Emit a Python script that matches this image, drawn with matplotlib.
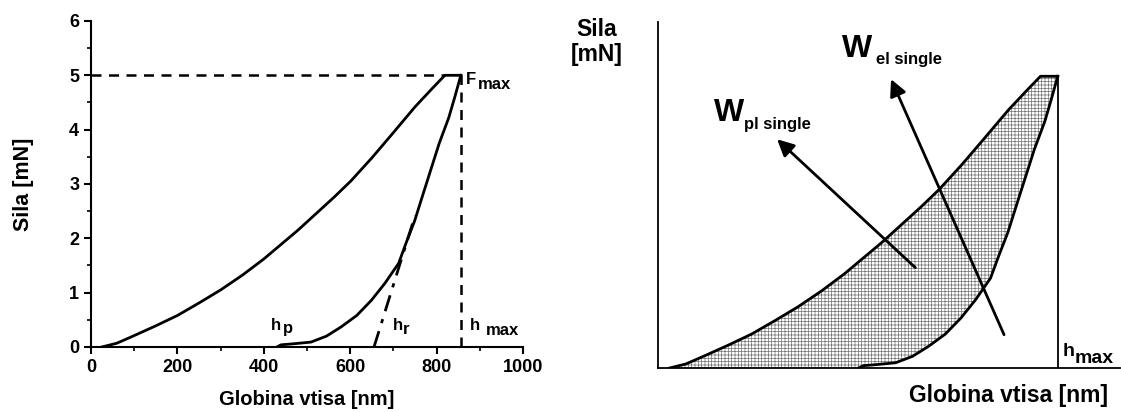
import matplotlib
matplotlib.use("Agg")
import matplotlib.pyplot as plt

plt.rcParams['font.family'] = ['Liberation Sans', 'DejaVu Sans']
plt.rcParams['font.weight'] = 'bold'
plt.rcParams['hatch.linewidth'] = 0.5

# loading curve (depth nm, force mN)
load_x = [25, 60, 100, 150, 200, 250, 300, 350, 400, 479, 563, 602, 650, 695, 750, 790, 819, 856]
load_y = [0, 0.07, 0.21, 0.39, 0.58, 0.81, 1.05, 1.32, 1.62, 2.15, 2.76, 3.06, 3.48, 3.9, 4.42, 4.76, 5.0, 5.0]

# unloading curve
unload_x = [856, 842, 828, 806, 786, 768, 749, 730, 712, 680, 649, 615, 579, 545, 509, 470, 440, 430]
unload_y = [5.0, 4.6, 4.22, 3.75, 3.25, 2.8, 2.32, 1.93, 1.54, 1.17, 0.86, 0.58, 0.37, 0.2, 0.09, 0.06, 0.04, 0]

# tangent at start of unloading
tan_x = [655, 750]
tan_y = [0, 2.42]

h_max = 856
f_max = 5.0

fig = plt.figure(figsize=(11.21, 4.12), dpi=100)

# ---- left chart ----
ax = fig.add_axes([0.0812, 0.1578, 0.3854, 0.7913])
ax.plot(load_x, load_y, color='black', lw=2, solid_joinstyle='round')
ax.plot(unload_x, unload_y, color='black', lw=2, solid_joinstyle='round')
ax.plot(tan_x, tan_y, color='black', lw=2, linestyle=(0, (6, 3, 1.5, 3)))
ax.plot([0, 819], [f_max, f_max], color='black', lw=1.8, linestyle=(0, (4, 3)))
ax.plot([h_max, h_max], [0, f_max], color='black', lw=1.8, linestyle=(0, (4, 3)))

ax.set_xlim(0, 1000)
ax.set_ylim(0, 6)
ax.set_xticks([0, 200, 400, 600, 800, 1000])
ax.set_xticks([100, 300, 500, 700, 900], minor=True)
ax.set_yticks([0, 1, 2, 3, 4, 5, 6])
ax.set_yticks([0.5, 1.5, 2.5, 3.5, 4.5, 5.5], minor=True)
ax.spines['top'].set_visible(False)
ax.spines['right'].set_visible(False)
ax.spines['left'].set_linewidth(1.5)
ax.spines['bottom'].set_linewidth(1.5)
ax.tick_params(which='major', length=5, width=1.5, labelsize=13)
ax.tick_params(which='minor', length=3, width=1.2)
ax.set_xlabel('Globina vtisa [nm]', fontsize=14.5, fontweight='bold', labelpad=10)
ax.set_ylabel('Sila [mN]', fontsize=15.5, fontweight='bold', labelpad=25)

ax.text(868, 4.84, 'F', fontsize=12, ha='left', va='baseline')
ax.text(896, 4.74, 'max', fontsize=12, ha='left', va='baseline')
ax.text(416, 0.31, 'h', fontsize=12, ha='left', va='baseline')
ax.text(444, 0.25, 'p', fontsize=12, ha='left', va='baseline')
ax.text(698, 0.31, 'h', fontsize=12, ha='left', va='baseline')
ax.text(722, 0.24, 'r', fontsize=12, ha='left', va='baseline')
ax.text(876, 0.31, 'h', fontsize=12, ha='left', va='baseline')
ax.text(914, 0.22, 'max', fontsize=12, ha='left', va='baseline')

# ---- right chart ----
ax2 = fig.add_axes([0.587, 0.1068, 0.412, 0.8398])
poly_x = load_x + unload_x
poly_y = load_y + unload_y
ax2.fill(poly_x, poly_y, facecolor='white', edgecolor='0.45', hatch='+++++', linewidth=0)
ax2.plot(load_x, load_y, color='black', lw=2, solid_joinstyle='round')
ax2.plot(unload_x, unload_y, color='black', lw=2, solid_joinstyle='round')
ax2.plot([h_max, h_max], [0, f_max], color='black', lw=1.3)

ax2.set_xlim(0, 989)
ax2.set_ylim(0, 5.93)
ax2.set_xticks([])
ax2.set_yticks([])
ax2.spines['top'].set_visible(False)
ax2.spines['right'].set_visible(False)
ax2.spines['left'].set_linewidth(1.3)
ax2.spines['bottom'].set_linewidth(1.3)

arrow = dict(arrowstyle='-|>,head_length=1.0,head_width=0.5', color='black', lw=2, shrinkA=0, shrinkB=0)
ax2.annotate('', xy=(255, 3.92), xytext=(551, 1.72), arrowprops=arrow)
ax2.annotate('', xy=(499, 4.95), xytext=(741, 0.57), arrowprops=arrow)

ax2.text(119, 4.23, 'W', fontsize=23, ha='left', va='baseline')
ax2.text(185, 4.09, 'pl single', fontsize=12, ha='left', va='baseline')
ax2.text(393, 5.33, 'W', fontsize=23, ha='left', va='baseline')
ax2.text(467, 5.21, 'el single', fontsize=12, ha='left', va='baseline')
ax2.text(867, 0.21, 'h', fontsize=14, ha='left', va='baseline')
ax2.text(893, 0.09, 'max', fontsize=14, ha='left', va='baseline')

fig.text(0.5326, 0.956, 'Sila\n[mN]', fontsize=16.5, ha='center', va='top', linespacing=1.1)
fig.text(0.988, 0.024, 'Globina vtisa [nm]', fontsize=16.5, ha='right', va='baseline')

fig.savefig('out.png', dpi=100, facecolor='white')
